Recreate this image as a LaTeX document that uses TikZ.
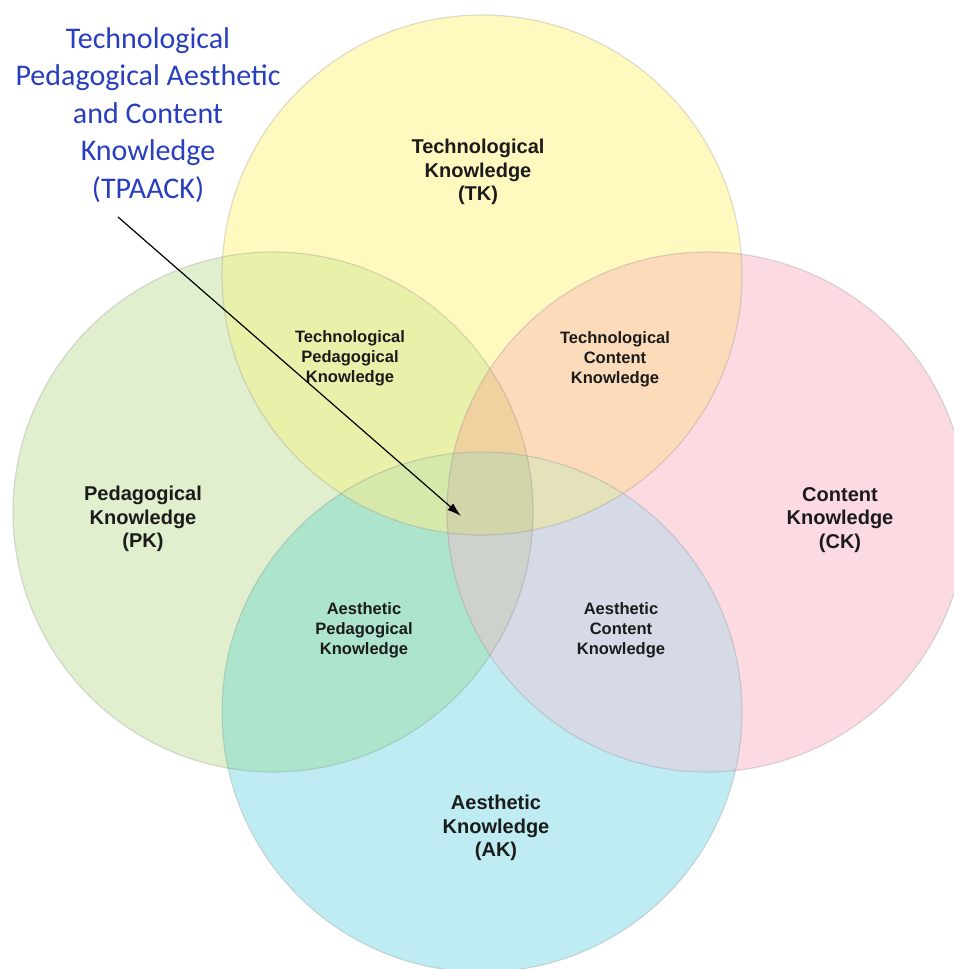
\documentclass[tikz,border=0pt]{standalone}
\usepackage{fontspec}
\setmainfont{Liberation Sans}
\newfontfamily\calibri{Carlito}
\usetikzlibrary{arrows.meta}

% single areas
\definecolor{cT}{RGB}{255,249,192}
\definecolor{cP}{RGB}{225,239,206}
\definecolor{cC}{RGB}{252,218,226}
\definecolor{cA}{RGB}{190,236,242}
% pairwise overlaps
\definecolor{cTP}{RGB}{233,240,170}
\definecolor{cTC}{RGB}{251,219,185}
\definecolor{cTA}{RGB}{215,234,188}
\definecolor{cPC}{RGB}{228,222,198}
\definecolor{cPA}{RGB}{172,228,204}
\definecolor{cCA}{RGB}{214,218,230}
% triple overlaps
\definecolor{cTPA}{RGB}{214,232,170}
\definecolor{cTCA}{RGB}{228,226,186}
\definecolor{cTPC}{RGB}{240,210,160}
\definecolor{cPCA}{RGB}{205,210,204}
% common core
\definecolor{cTPCA}{RGB}{210,212,170}

\definecolor{titleblue}{RGB}{40,62,190}
\definecolor{inktext}{RGB}{27,27,27}

% circle outlines of the four areas
\newcommand\tkcirc{(482,275) circle[radius=260]}
\newcommand\pkcirc{(273,512) circle[radius=260]}
\newcommand\ckcirc{(707,512) circle[radius=260]}
\newcommand\akcirc{(482,712) circle[radius=260]}

\begin{document}
\begin{tikzpicture}[x=0.75pt,y=-0.75pt,
  knowbubble/.style={circle,minimum size=390pt,inner sep=0pt,
                 draw=gray,draw opacity=0.25,line width=0.9pt},
  mainlabel/.style={align=center,text=inktext,inner sep=0pt,
                 font=\fontsize{15}{17.5}\selectfont\bfseries},
  overlaplabel/.style={align=center,text=inktext,inner sep=0pt,
                 font=\fontsize{12.4}{15}\selectfont\bfseries},
  titlelabel/.style={align=center,text=titleblue,inner sep=0pt,
                 font=\calibri\fontsize{22.5}{28.2}\selectfont},
  pointer/.style={-{Latex[length=10.5pt,width=6.5pt]},line width=0.9pt,black}]

\useasboundingbox (0,0) rectangle (953,969);
\fill[white] (0,0) rectangle (953,969);

% single areas
\fill[cT] \tkcirc;
\fill[cP] \pkcirc;
\fill[cC] \ckcirc;
\fill[cA] \akcirc;

% pairwise overlaps
\begin{scope}\clip \tkcirc; \fill[cTP] \pkcirc; \end{scope}
\begin{scope}\clip \tkcirc; \fill[cTC] \ckcirc; \end{scope}
\begin{scope}\clip \tkcirc; \fill[cTA] \akcirc; \end{scope}
\begin{scope}\clip \pkcirc; \fill[cPC] \ckcirc; \end{scope}
\begin{scope}\clip \pkcirc; \fill[cPA] \akcirc; \end{scope}
\begin{scope}\clip \ckcirc; \fill[cCA] \akcirc; \end{scope}

% triple overlaps
\begin{scope}\clip \tkcirc; \clip \pkcirc; \fill[cTPA] \akcirc; \end{scope}
\begin{scope}\clip \tkcirc; \clip \ckcirc; \fill[cTCA] \akcirc; \end{scope}
\begin{scope}\clip \tkcirc; \clip \pkcirc; \fill[cTPC] \ckcirc; \end{scope}
\begin{scope}\clip \pkcirc; \clip \ckcirc; \fill[cPCA] \akcirc; \end{scope}

% all four
\begin{scope}\clip \tkcirc; \clip \pkcirc; \clip \ckcirc; \fill[cTPCA] \akcirc; \end{scope}

% outlines
\node[knowbubble] (tk) at (482,275) {};
\node[knowbubble] (pk) at (273,512) {};
\node[knowbubble] (ck) at (707,512) {};
\node[knowbubble] (ak) at (482,712) {};

% area names
\node[mainlabel] (tklab) at (478,172) {Technological\\Knowledge\\(TK)};
\node[mainlabel] (pklab) at (143,519) {Pedagogical\\Knowledge\\(PK)};
\node[mainlabel] (cklab) at (840,520) {Content\\Knowledge\\(CK)};
\node[mainlabel] (aklab) at (496,828) {Aesthetic\\Knowledge\\(AK)};

% pairwise overlap names
\node[overlaplabel] (tpk) at (350,358) {Technological\\Pedagogical\\Knowledge};
\node[overlaplabel] (tck) at (615,359) {Technological\\Content\\Knowledge};
\node[overlaplabel] (apk) at (364,630) {Aesthetic\\Pedagogical\\Knowledge};
\node[overlaplabel] (ack) at (621,630) {Aesthetic\\Content\\Knowledge};

% combined knowledge and its pointer to the common core
\node[titlelabel] (tpaack) at (148,115)
  {Technological\\Pedagogical Aesthetic\\and Content\\Knowledge\\(TPAACK)};
\coordinate (tail) at (118,217);
\coordinate (core) at (461,516);
\draw[pointer] (tail) -- (core);

\end{tikzpicture}
\end{document}
